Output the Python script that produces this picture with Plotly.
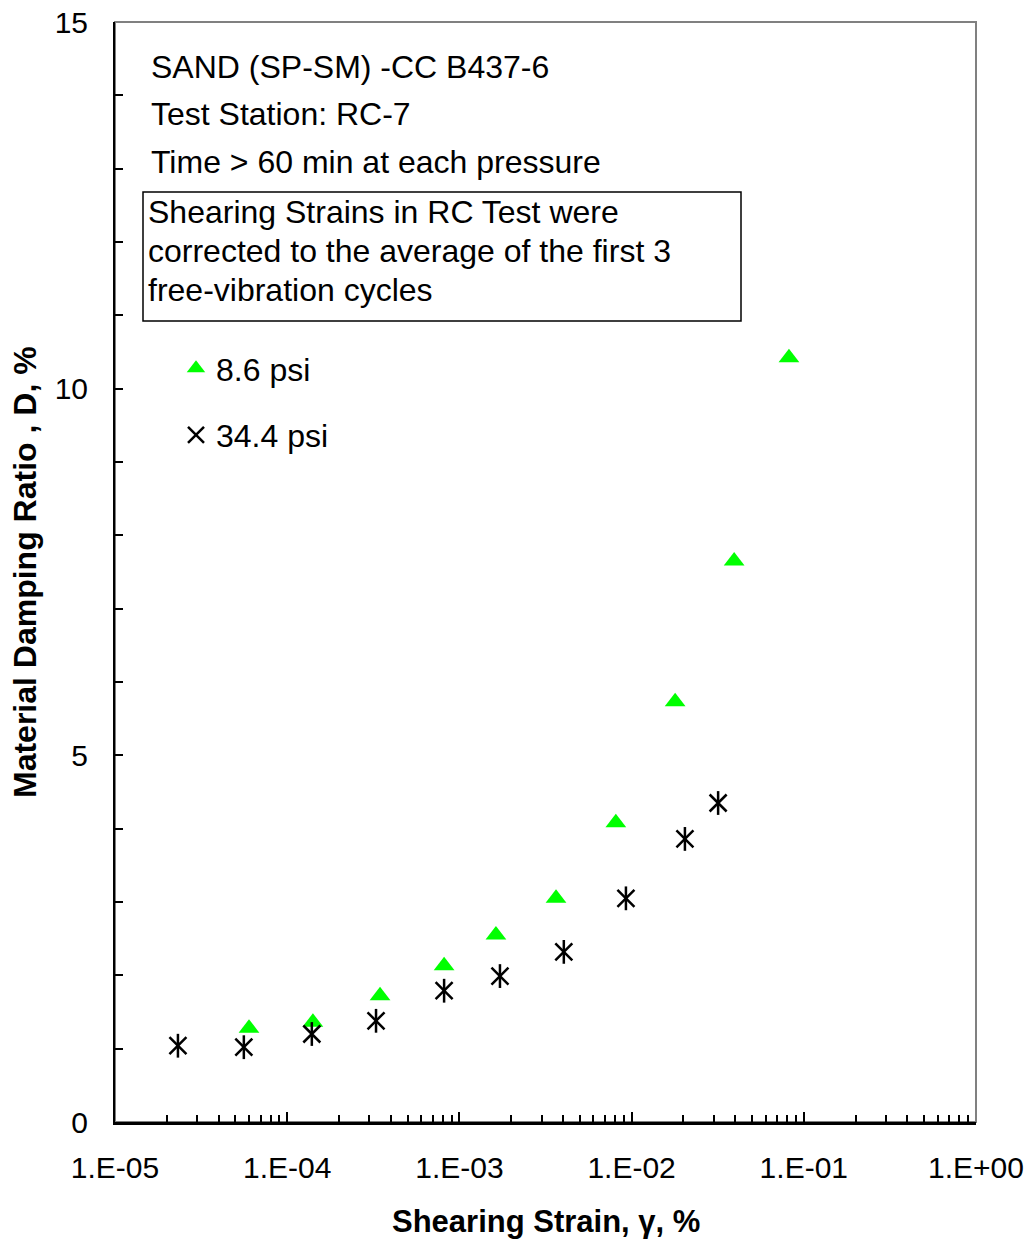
import plotly.graph_objects as go

# ---- data ----
strain_86 = [6.0e-5, 1.41e-4, 3.46e-4, 8.15e-4, 1.63e-3, 3.64e-3, 8.1e-3, 1.79e-2, 3.94e-2, 8.2e-2]
damp_86 = [1.28, 1.36, 1.72, 2.13, 2.55, 3.05, 4.08, 5.73, 7.65, 10.42]

strain_344 = [2.32e-5, 5.6e-5, 1.39e-4, 3.28e-4, 8.15e-4, 1.72e-3, 4.04e-3, 9.27e-3, 2.04e-2, 3.18e-2]
damp_344 = [1.04, 1.02, 1.20, 1.38, 1.79, 1.99, 2.32, 3.05, 3.86, 4.35]

series_names = ["8.6 psi", "34.4 psi"]
x_tick_vals = [1e-5, 1e-4, 1e-3, 1e-2, 1e-1, 1e0]
x_tick_text = ["1.E-05", "1.E-04", "1.E-03", "1.E-02", "1.E-01", "1.E+00"]
x_minor_vals = [m * 10.0 ** e for e in range(-5, 0) for m in range(2, 10)]
y_tick_vals = [0, 5, 10, 15]
y_tick_text = ["0", "5", "10", "15"]

title_lines = ["SAND (SP-SM) -CC B437-6", "Test Station: RC-7", "Time > 60 min at each pressure"]
note_lines = ["Shearing Strains in RC Test were", "corrected to the average of the first 3", "free-vibration cycles"]

FONT = "Liberation Sans, Arial, sans-serif"

fig = go.Figure()
fig.add_trace(go.Scatter(
    x=strain_86, y=damp_86, mode="markers", name=series_names[0], legendgroup="a",
    marker=dict(symbol="triangle-up", size=18, color="#00FF00", line=dict(width=0)),
))
fig.add_trace(go.Scatter(
    x=strain_344, y=damp_344, mode="markers", name=series_names[1], legendgroup="b",
    marker=dict(symbol="x-thin-open", size=17, color="black", line=dict(width=2.5, color="black")),
))
fig.add_trace(go.Scatter(
    x=strain_344, y=damp_344, mode="markers", name=series_names[1], legendgroup="b", showlegend=False,
    marker=dict(symbol="line-ns-open", size=17, color="black", line=dict(width=2.5, color="black")),
))

W, H = 1032, 1243
L, R, T, B = 115, 56, 22, 121
pw, ph = W - L - R, H - T - B

def px(x):
    return (x - L) / pw

def py(y):
    return (H - B - y) / ph

annotations = []
for line, yy in zip(title_lines, [67, 114, 162]):
    annotations.append(dict(
        text=line, xref="paper", yref="paper", x=px(149), y=py(yy),
        xanchor="left", yanchor="middle", showarrow=False,
        font=dict(family=FONT, size=32, color="black"),
    ))
for line, yy in zip(note_lines, [212, 251, 290]):
    annotations.append(dict(
        text=line, xref="paper", yref="paper", x=px(146), y=py(yy),
        xanchor="left", yanchor="middle", showarrow=False,
        font=dict(family=FONT, size=32, color="black"),
    ))
annotations.append(dict(
    text="<b>Material Damping Ratio , D, %</b>", xref="paper", yref="paper",
    x=px(25), y=py(572), xanchor="center", yanchor="middle", textangle=-90, showarrow=False,
    font=dict(family=FONT, size=32, color="black"),
))
annotations.append(dict(
    text="<b>Shearing Strain, γ, %</b>", xref="paper", yref="paper",
    x=px(546), y=py(1221), xanchor="center", yanchor="middle", showarrow=False,
    font=dict(family=FONT, size=31, color="black"),
))

fig.update_layout(
    width=W, height=H,
    margin=dict(l=L, r=R, t=T, b=B, pad=0, autoexpand=False),
    paper_bgcolor="white", plot_bgcolor="white",
    font=dict(family=FONT, size=30, color="black"),
    showlegend=True,
    legend=dict(
        x=px(176), y=py(341), xanchor="left", yanchor="top",
        bgcolor="rgba(0,0,0,0)", borderwidth=0,
        font=dict(family=FONT, size=32, color="black"),
        tracegroupgap=22,
    ),
    annotations=annotations,
    shapes=[
        dict(type="rect", xref="paper", yref="paper", x0=0, x1=1, y0=0, y1=1,
             line=dict(color="#808080", width=2), layer="below"),
        dict(type="rect", xref="paper", yref="paper", x0=px(143), x1=px(741), y0=py(321), y1=py(192),
             line=dict(color="black", width=1.5), fillcolor="white", layer="below"),
    ],
    xaxis=dict(
        type="log", range=[-5, 0], tickvals=x_tick_vals, ticktext=x_tick_text,
        ticks="inside", ticklen=10, tickwidth=1.5, tickcolor="black",
        showline=True, linecolor="black", linewidth=2.5, mirror=False,
        showgrid=False, zeroline=False, ticklabelstandoff=17, automargin=False,
        tickfont=dict(family=FONT, size=30),
        minor=dict(tickvals=x_minor_vals, ticks="inside", ticklen=7, tickwidth=1.5,
                   tickcolor="black", showgrid=False),
    ),
    yaxis=dict(
        range=[0, 15], tickvals=y_tick_vals, ticktext=y_tick_text,
        ticks="inside", ticklen=8, tickwidth=1.5, tickcolor="black",
        showline=True, linecolor="black", linewidth=2, mirror=False,
        showgrid=False, zeroline=False, ticklabelstandoff=19, automargin=False,
        tickfont=dict(family=FONT, size=30),
        minor=dict(dtick=1, ticks="inside", ticklen=8, tickwidth=1.5, tickcolor="black", showgrid=False),
    ),
)

fig.write_html("out.html")
